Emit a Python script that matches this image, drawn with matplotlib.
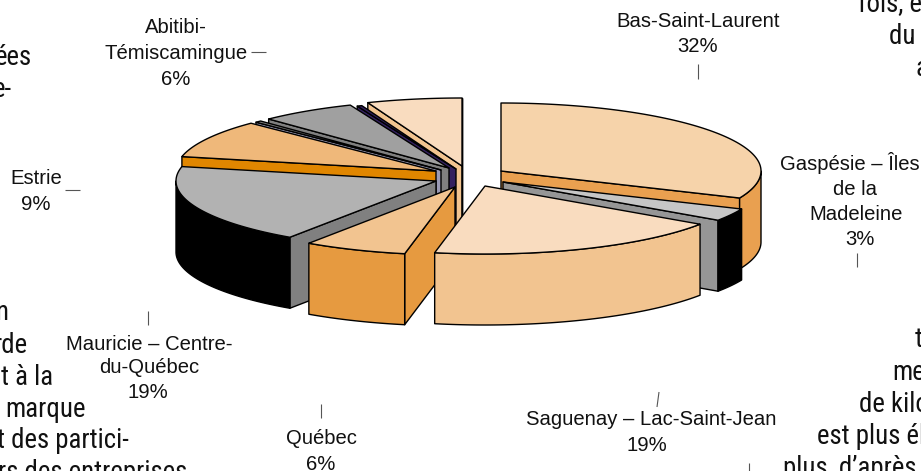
import numpy as np
import matplotlib
matplotlib.use("Agg")
import matplotlib.pyplot as plt
from matplotlib.patches import Polygon

plt.rcParams['font.family'] = ['Liberation Sans', 'DejaVu Sans']

# Slices, clockwise from 12 o'clock
regions = ["Bas-Saint-Laurent", "Gaspésie", "Saguenay", "Québec", "Mauricie",
           "Estrie", "Montréal", "Abitibi", "Nord", "Côte-Nord"]
shares = [31.5, 3, 18.6, 6.4, 18.9, 9, 0.4, 6, 0.3, 5.9]

# Pull of each slice away from the pie centre, in pixels
pull_x = [39, 41, 23, -7, -26, -26, -21, -13, -6, 0]
pull_y = [-1, 10, 14, 15, 9, -1, -2, -4, -3, -6]

top_colors = ["#F6D3AA", "#C6C6C6", "#F9DCBF", "#F2C490", "#B2B2B2",
              "#EFB87A", "#808080", "#A0A0A0", "#33205F", "#F9DCBF"]
rim_colors = ["#E9A050", "#000000", "#F2C490", "#E69A40", "#000000",
              "#E08600", "#9A9AB5", "#808080", "#33205F", "#F2C490"]
cut_colors = ["#E9A050", "#969696", "#F2C490", "#E69A40", "#808080",
              "#E08600", "#9A9AB5", "#808080", "#33205F", "#F2C490"]

# (text, x, baseline y)
labels = [
    ("Abitibi-", 176, 33), ("Témiscamingue", 176, 59), ("6%", 176, 85),
    ("Estrie", 36, 184), ("9%", 36, 210),
    ("Mauricie – Centre-", 149, 350), ("du-Québec", 149, 373), ("19%", 148, 398),
    ("Québec", 321, 444), ("6%", 321, 470),
    ("Saguenay – Lac-Saint-Jean", 651, 425), ("19%", 647, 451),
    ("Bas-Saint-Laurent", 698, 27), ("32%", 698, 52),
    ("Gaspésie – Îles", 850, 170), ("de la", 855, 195), ("Madeleine", 856, 220), ("3%", 860, 245),
]

# leader lines (x0, y0, x1, y1)
leaders = [(251, 52, 266, 52), (65, 190, 80, 190), (148, 311, 148, 325), (321, 404, 321, 418),
           (659, 392, 657, 407), (698, 64, 698, 79), (857, 253, 857, 267), (749, 463, 749, 471)]

# bits of the page text around the chart: (text, x, baseline y, anchor)
body_text = [
    ("ées", 32, 65, "right"), ("e-", 12, 97, "right"),
    ("n", 8, 320, "right"), ("rde", 27, 353, "right"), ("t à la", 53, 385, "right"),
    ("marque", 86, 417, "right"), ("t des partici-", 129, 448, "right"),
    ("rs des entreprises", 187, 480, "right"),
    ("fois, en", 858, 12, "left"), ("du c", 889, 44, "left"), ("a", 915, 76, "left"),
    ("t", 915, 347, "left"), ("me", 892, 380, "left"), ("de kilomètres", 859, 412, "left"),
    ("est plus élevé", 817, 444, "left"), ("plus, d’après,", 783, 476, "left"),
]

cx, cy = 462, 172
rx, ry = 260, 68
depth = 71


def rim_points(x0, y0, a0, a1):
    t = np.radians(np.linspace(a0, a1, max(int(abs(a1 - a0)) * 2, 2)))
    return np.column_stack([x0 + rx * np.sin(t), y0 - ry * np.cos(t)])


def draw_slice(ax, i, a0, a1):
    x0 = cx + pull_x[i]
    y0 = cy + pull_y[i]
    kw = dict(edgecolor="black", linewidth=1.0, joinstyle="round")

    # faces of the cut, only the ones turned towards the viewer
    for ang, visible in ((a0, np.sin(np.radians(a0)) < 0), (a1, np.sin(np.radians(a1)) > 0)):
        if visible:
            p = rim_points(x0, y0, ang, ang)[0]
            ax.add_patch(Polygon([(x0, y0), p, (p[0], p[1] + depth), (x0, y0 + depth)],
                                 facecolor=cut_colors[i], **kw))

    # outer wall, front half only
    lo, hi = max(a0, 90), min(a1, 270)
    if hi > lo:
        arc = rim_points(x0, y0, lo, hi)
        wall = np.vstack([arc, (arc + [0, depth])[::-1]])
        ax.add_patch(Polygon(wall, facecolor=rim_colors[i], **kw))

    top = np.vstack([[(x0, y0)], rim_points(x0, y0, a0, a1)])
    ax.add_patch(Polygon(top, facecolor=top_colors[i], **kw))


fig = plt.figure(figsize=(9.21, 4.71), dpi=100)
ax = fig.add_axes([0, 0, 1, 1])
ax.set_xlim(0, 921)
ax.set_ylim(471, 0)
ax.axis("off")

ends = np.cumsum(shares) / np.sum(shares) * 360
starts = np.concatenate([[0], ends[:-1]])
mids = (starts + ends) / 2

# painter's order: back of the pie first
for i in np.argsort(-np.abs(mids - 180)):
    draw_slice(ax, i, starts[i], ends[i])

for x0, y0, x1, y1 in leaders:
    ax.plot([x0, x1], [y0, y1], color="#555555", linewidth=0.8, solid_capstyle="butt")

for txt, x, y in labels:
    ax.text(x, y, txt, ha="center", va="baseline", fontsize=14.6, color="#111111")

for txt, x, y, anchor in body_text:
    ax.text(x, y, txt, ha=anchor, va="baseline", fontsize=19.4, color="#111111", clip_on=True,
            family=['Roboto Condensed', 'Liberation Sans'])

fig.savefig("out.png", dpi=100)
